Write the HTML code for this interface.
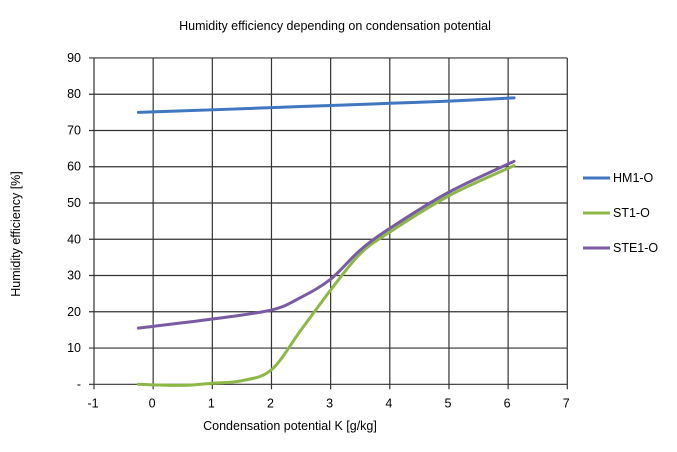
<!DOCTYPE html>
<html><head><meta charset="utf-8"><style>
body{margin:0;background:#fff;font-family:"Liberation Sans",Arial,sans-serif;}
svg text{font-family:"Liberation Sans",Arial,sans-serif;font-size:12.5px;fill:#000;}
</style></head><body>
<svg id="chart" width="677" height="447">
<text x="335" y="30" text-anchor="middle">Humidity efficiency depending on condensation potential</text>
<g id="grid"></g><g id="axes"></g><g id="series"></g>
<text x="290" y="430" text-anchor="middle">Condensation potential K [g/kg]</text>
<text transform="translate(20,234) rotate(-90)" text-anchor="middle">Humidity efficiency [%]</text>
<g id="legend"></g>
</svg>
<script>
const xTicks=[-1,0,1,2,3,4,5,6,7];
const yTicks=[0,10,20,30,40,50,60,70,80,90];
const yTickLabels=["-","10","20","30","40","50","60","70","80","90"];
const seriesNames=["HM1-O","ST1-O","STE1-O"];
const seriesColors=["#4077c0","#8db846","#7a5ba3"];
const hmX=[-0.25,1,2,3,4,5,6.1];
const hmY=[75,75.7,76.3,76.9,77.5,78.1,79];
const stX=[-0.25,0.5,1,1.5,2,2.5,3,3.5,4,5,6.1];
const stY=[0,-0.3,0.3,1,4,15,26,36,42,52,60.3];
const steX=[-0.25,1,2,2.5,3,3.5,4,5,6.1];
const steY=[15.5,18,20.5,24,29,37,43,53,61.5];
const NS="http://www.w3.org/2000/svg";
const X=v=>94+(v+1)*59.16;
const Y=v=>384.3-v*3.626;
function mk(t,a,p){const e=document.createElementNS(NS,t);for(const k in a)e.setAttribute(k,a[k]);p.appendChild(e);return e;}
const grid=document.getElementById('grid'),axes=document.getElementById('axes'),ser=document.getElementById('series'),leg=document.getElementById('legend');
xTicks.forEach(v=>{
 const l=mk('line',{x1:X(v),x2:X(v),y1:Y(90),y2:Y(0)+5,stroke:'#333','stroke-width':1.2},grid);
 
 
 const t=mk('text',{x:X(v)-1,y:Y(0)+23,'text-anchor':'middle'},axes);t.textContent=v;
 
 
});
yTicks.forEach((v,i)=>{
 const l=mk('line',{x1:X(-1)-5,x2:X(7),y1:Y(v),y2:Y(v),stroke:'#333','stroke-width':1.2},grid);
 
 
 const t=mk('text',{x:X(-1)-13,y:Y(v)+4,'text-anchor':'end'},axes);t.textContent=yTickLabels[i];
 
 
});
function smooth(xs,ys){
 const p=xs.map((x,i)=>[X(x),Y(ys[i])]);let d='M'+p[0][0]+','+p[0][1];
 for(let i=0;i<p.length-1;i++){const p0=p[i-1]||p[i],p1=p[i],p2=p[i+1],p3=p[i+2]||p2;
 d+=` C${p1[0]+(p2[0]-p0[0])/6},${p1[1]+(p2[1]-p0[1])/6} ${p2[0]-(p3[0]-p1[0])/6},${p2[1]-(p3[1]-p1[1])/6} ${p2[0]},${p2[1]}`;}
 return d;}
const data=[[hmX,hmY],[stX,stY],[steX,steY]];
data.forEach((s,i)=>{
 const p=mk('path',{d:smooth(s[0],s[1]),fill:'none',stroke:seriesColors[i],'stroke-width':3,'stroke-linecap':'round'},ser);
 
 
 const ly=178+i*35;
 const g=mk('g',{},leg);
 
 
 mk('line',{x1:583,x2:610,y1:ly,y2:ly,stroke:seriesColors[i],'stroke-width':3},g);
 const t=mk('text',{x:613,y:ly+4},g);t.textContent=seriesNames[i];
});
</script>
</body></html>
